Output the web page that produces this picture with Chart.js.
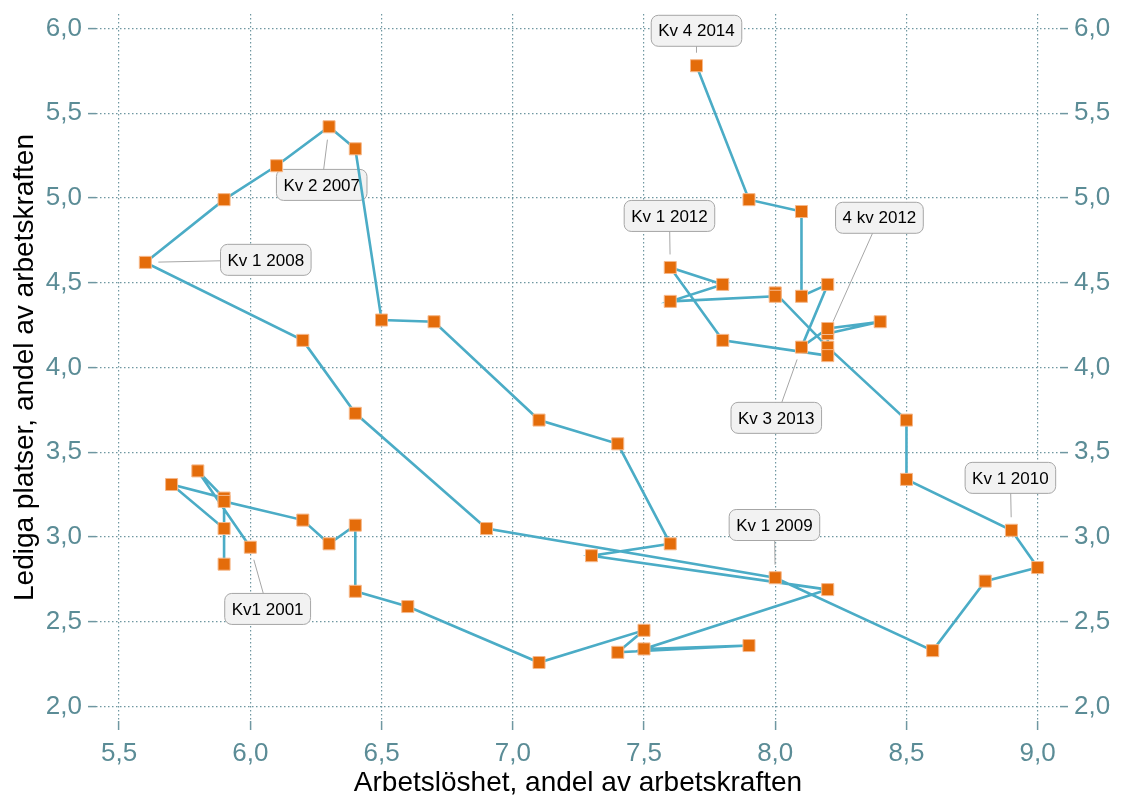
<!DOCTYPE html>
<html>
<head>
<meta charset="utf-8">
<script src="https://cdn.jsdelivr.net/npm/chart.js@4.4.1/dist/chart.umd.min.js"></script>
<style>
  html, body { margin: 0; padding: 0; background: #fff; }
</style>
</head>
<body>
<canvas id="chart" width="1122" height="798"></canvas>
<script>
// Kv1 2001 .. Kv4 2014, one point per quarter
const unemployment = [
  6.0, 5.8, 5.9, 5.7, 5.9, 5.9, 5.9, 6.2,
  6.3, 6.4, 6.4, 6.6, 7.1, 7.5, 7.4, 7.9,
  7.5, 8.2, 7.3, 7.6, 7.4, 7.1, 6.7, 6.5,
  6.4, 6.3, 6.1, 5.9, 5.6, 6.2, 6.4, 6.9,
  8.0, 8.6, 8.8, 9.0, 8.9, 8.5, 8.5, 8.2,
  8.0, 8.0, 7.6, 7.8, 7.6, 7.8, 8.2, 8.2,
  8.4, 8.2, 8.1, 8.2, 8.1, 8.1, 7.9, 7.7
];
const vacancies = [
  2.94, 3.39, 3.23, 3.31, 3.05, 2.84, 3.21, 3.10,
  2.96, 3.07, 2.68, 2.59, 2.26, 2.45, 2.32, 2.36,
  2.34, 2.69, 2.89, 2.96, 3.55, 3.69, 4.27, 4.28,
  5.29, 5.42, 5.19, 4.99, 4.62, 4.16, 3.73, 3.05,
  2.76, 2.33, 2.74, 2.82, 3.04, 3.34, 3.69, 4.12,
  4.44, 4.42, 4.39, 4.49, 4.59, 4.16, 4.07, 4.20,
  4.27, 4.23, 4.12, 4.49, 4.42, 4.92, 4.99, 5.78
];

const xTicks = [5.5, 6.0, 6.5, 7.0, 7.5, 8.0, 8.5, 9.0];
const yTicks = [2.0, 2.5, 3.0, 3.5, 4.0, 4.5, 5.0, 5.5, 6.0];

// callouts: text, point index, box centre (data units)
const annText  = ['Kv1 2001', 'Kv 2 2007', 'Kv 1 2008', 'Kv 1 2009', 'Kv 1 2010', 'Kv 1 2012', '4 kv 2012', 'Kv 3 2013', 'Kv 4 2014'];
const annIndex = [0, 25, 28, 32, 36, 44, 47, 50, 55];
const annX     = [6.066, 6.272, 6.059, 7.997, 8.896, 7.597, 8.397, 8.004, 7.700];
const annY     = [2.576, 5.077, 4.635, 3.071, 3.349, 4.894, 4.883, 3.703, 5.986];

const FONT = '"Liberation Sans", Arial, Helvetica, sans-serif';
const tickCol = '#5b8c96';
const gridCol = '#6f97a1';

const fmt = v => v.toFixed(1).replace('.', ',');

const callouts = {
  id: 'callouts',
  beforeDatasetsDraw(chart) {
    const { ctx, scales: { x, y } } = chart;
    ctx.save();
    ctx.font = '17px ' + FONT;
    annText.forEach((t, k) => {
      const i = annIndex[k];
      const px = x.getPixelForValue(unemployment[i]);
      const py = y.getPixelForValue(vacancies[i]);
      const bx = x.getPixelForValue(annX[k]);
      const by = y.getPixelForValue(annY[k]);
      const w = ctx.measureText(t).width + 14, h = 31;
      const dx = bx - px, dy = by - py, d = Math.hypot(dx, dy);
      ctx.strokeStyle = '#a6a6a6';
      ctx.lineWidth = 1;
      ctx.beginPath();
      ctx.moveTo(px + dx / d * 13, py + dy / d * 13);
      ctx.lineTo(bx, by);
      ctx.stroke();
      ctx.beginPath();
      ctx.roundRect(bx - w / 2, by - h / 2, w, h, 7);
      ctx.fillStyle = '#f2f2f2';
      ctx.fill();
      ctx.stroke();
      ctx.fillStyle = '#000';
      ctx.textAlign = 'center';
      ctx.textBaseline = 'middle';
      ctx.fillText(t, bx, by + 1);
    });
    ctx.restore();
  }
};

const gridOpts = {
  color: gridCol,
  lineWidth: 1.2,
  tickColor: gridCol,
  tickWidth: 1.5,
  tickBorderDash: []
};
const xTickFont = { size: 26, family: FONT, lineHeight: 1 };
// small line height keeps the y labels from pushing the plot area down
const yTickFont = { size: 26, family: FONT, lineHeight: 0.3 };

new Chart(document.getElementById('chart').getContext('2d'), {
  type: 'scatter',
  data: {
    datasets: [{
      data: unemployment.map((u, i) => ({ x: u, y: vacancies[i] })),
      showLine: true,
      borderColor: '#4bacc6',
      borderWidth: 2.6,
      tension: 0,
      pointStyle: 'rect',
      pointRadius: 8.5,
      pointBackgroundColor: '#e46c0a',
      pointBorderColor: '#f6b88a',
      pointBorderWidth: 1
    }]
  },
  options: {
    responsive: false,
    animation: false,
    layout: { padding: { top: 14, left: 0, right: 0, bottom: 0 } },
    plugins: { legend: { display: false }, tooltip: { enabled: false } },
    scales: {
      x: {
        type: 'linear',
        position: 'bottom',
        min: 5.412,
        max: 9.085,
        afterBuildTicks: s => { s.ticks = xTicks.map(v => ({ value: v })); },
        afterFit: s => { s.height = 77; },
        ticks: { callback: fmt, color: tickCol, font: xTickFont, padding: 11, maxRotation: 0 },
        grid: { ...gridOpts, tickLength: 9 },
        border: { display: false, dash: [1.5, 2.5] },
        title: {
          display: true,
          text: 'Arbetslöshet, andel av arbetskraften',
          color: '#000',
          font: { size: 28, family: FONT, lineHeight: 1 },
          padding: { top: 0, bottom: 1 }
        }
      },
      y: {
        type: 'linear',
        position: 'left',
        min: 1.915,
        max: 6.085,
        afterBuildTicks: s => { s.ticks = yTicks.map(v => ({ value: v })); },
        afterFit: s => { s.width = 96; },
        ticks: { callback: fmt, color: tickCol, font: yTickFont, padding: 6 },
        grid: { ...gridOpts, tickLength: 8 },
        border: { display: false, dash: [1.5, 2.5] },
        title: {
          display: true,
          text: 'Lediga platser, andel av arbetskraften',
          color: '#000',
          font: { size: 28, family: FONT, lineHeight: 1 },
          padding: { top: 11, bottom: 0 }
        }
      },
      y2: {
        type: 'linear',
        position: 'right',
        min: 1.915,
        max: 6.085,
        afterBuildTicks: s => { s.ticks = yTicks.map(v => ({ value: v })); },
        afterFit: s => { s.width = 62; },
        ticks: { callback: fmt, color: tickCol, font: yTickFont, padding: 6 },
        grid: { ...gridOpts, tickLength: 8, drawOnChartArea: false },
        border: { display: false }
      }
    }
  },
  plugins: [callouts]
});
</script>
</body>
</html>
